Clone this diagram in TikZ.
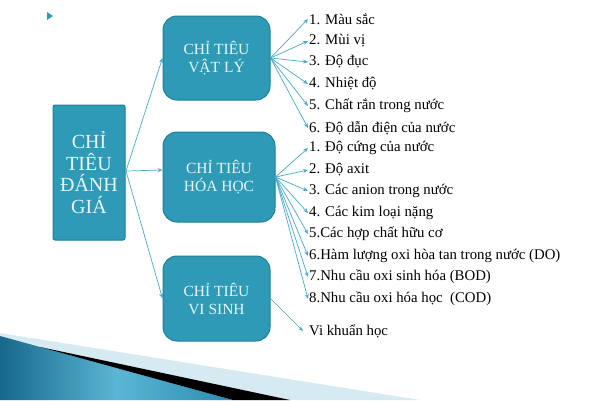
\documentclass[tikz,border=0pt]{standalone}
\usepackage{fontspec}
\setmainfont{Liberation Serif}
\newfontfamily\serf{Liberation Serif}
\usetikzlibrary{arrows.meta,calc}
\definecolor{boxfill}{HTML}{2E9AB6}
\definecolor{boxline}{HTML}{1F7F99}
\definecolor{boxtext}{HTML}{E8F6FA}
\definecolor{arrcol}{HTML}{4BA9C7}
\definecolor{bandlight}{HTML}{D6EAF1}
\definecolor{banddark}{HTML}{17688A}
\definecolor{bandmid}{HTML}{5AB6D4}
\definecolor{bandright}{HTML}{2A8DB0}
\tikzset{
  catbox/.style={draw=boxline, line width=1pt, fill=boxfill, rounded corners=14pt,
    text=boxtext, align=center, font=\serf\fontsize{15.5}{18}\selectfont, inner sep=0pt},
  mainbox/.style={draw=boxline, line width=1pt, fill=boxfill, rounded corners=2pt,
    text=boxtext, align=center, font=\serf\fontsize{20}{21.5}\selectfont, inner sep=0pt},
  item/.style={anchor=west, inner sep=0pt, text=black, font=\serf\fontsize{14.8}{16}\selectfont},
  arr/.style={draw=arrcol, line width=0.7pt, -{Stealth[length=5pt,width=4pt]}},
}
\begin{document}
\begin{tikzpicture}[x=1pt,y=-1pt]
\useasboundingbox (0,0) rectangle (600,400);
\fill[white] (0,0) rectangle (600,400);
% bottom band
\fill[bandlight] (0,333) -- (420,400) -- (0,400) -- cycle;
\shade[left color=banddark, right color=bandright, middle color=bandmid]
  (0,336) -- (233,400) -- (0,400) -- cycle;
\fill[black] (40,347) -- (290,400) -- (233,400) -- cycle;
% bullet
\fill[boxfill] (47,12) -- (53,16) -- (47,20) -- cycle;
% boxes
\node[mainbox, minimum width=72pt, minimum height=135pt] (main) at (89,172.5) {CHỈ\\TIÊU\\ĐÁNH\\GIÁ};
\node[catbox, minimum width=107pt, minimum height=84pt] (vl) at (216.5,58) {CHỈ TIÊU\\VẬT LÝ};
\node[catbox, minimum width=112pt, minimum height=90pt] (hh) at (219,177) {CHỈ TIÊU\\HÓA HỌC};
\node[catbox, minimum width=107pt, minimum height=85pt] (vs) at (216.5,298.5) {CHỈ TIÊU\\VI SINH};
% items
\node[item] (a1) at (309,19) {1. Màu sắc};
\node[item] (a2) at (309,41) {2. Mùi vị};
\node[item] (a3) at (309,62) {3. Độ đục};
\node[item] (a4) at (309,84) {4. Nhiệt độ};
\node[item] (a5) at (309,106) {5. Chất rắn trong nước};
\node[item] (a6) at (309,128) {6. Độ dẫn điện của nước};
\node[item] (b1) at (309,148) {1. Độ cứng của nước};
\node[item] (b2) at (309,170) {2. Độ axit};
\node[item] (b3) at (309,191) {3. Các anion trong nước};
\node[item] (b4) at (309,213) {4. Các kim loại nặng};
\node[item] (b5) at (309,234) {5.Các hợp chất hữu cơ};
\node[item] (b6) at (309,256) {6.Hàm lượng oxi hòa tan trong nước (DO)};
\node[item] (b7) at (309,277) {7.Nhu cầu oxi sinh hóa (BOD)};
\node[item] (b8) at (309,299) {8.Nhu cầu oxi hóa học\ \ (COD)};
\node[item] (c1) at (309,331) {Vi khuẩn học};
% connectors
\coordinate (src) at (126,171);
\draw[arr] (src) -- (vl.west);
\draw[arr] (src) -- ([yshift=7pt]hh.west);
\draw[arr] (src) -- (vs.west);
\foreach \t in {a1,a2,a3,a4,a5,a6} \draw[arr] (vl.east) -- ([xshift=-1pt]\t.west);
\foreach \t in {b1,b2,b3,b4,b5,b6,b7,b8} \draw[arr] (hh.east) -- ([xshift=-1pt]\t.west);
\draw[arr] (vs.east) -- ([xshift=-6pt]c1.west);
\end{tikzpicture}
\end{document}
